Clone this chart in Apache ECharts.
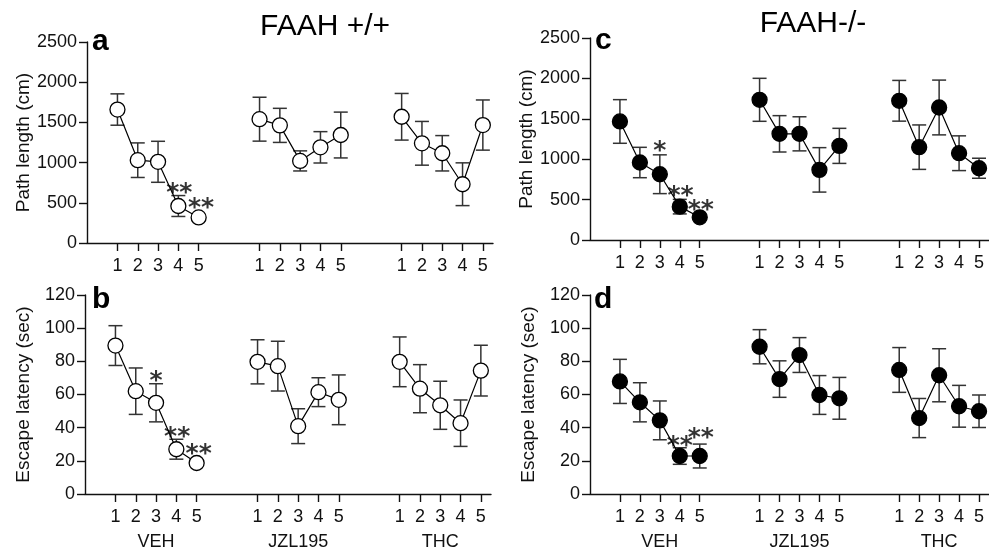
<!DOCTYPE html>
<html>
<head>
<meta charset="utf-8">
<script src="https://cdn.jsdelivr.net/npm/echarts@6/dist/echarts.min.js"></script>
<style>
  html, body { margin: 0; padding: 0; background: #fff; }
  #myEcharts { width: 989px; height: 555px; }
</style>
</head>
<body>
<div id="myEcharts"></div>
<script>
// groups and training days
const groups = ['VEH', 'JZL195', 'THC'];
const days = [1, 2, 3, 4, 5];
const groupStart = [0, 7, 14]; // x position of day 1 in each group

// a: FAAH +/+ path length (cm)
const pathWTMean = [1660, 1030, 1010, 460, 318, 1540, 1463, 1021, 1190, 1343, 1570, 1240, 1116, 731, 1467];
const pathWTSem = [195, 215, 255, 130, 20, 273, 212, 125, 195, 285, 290, 272, 220, 266, 312];
// b: FAAH +/+ escape latency (sec)
const latWTMean = [89.5, 62, 55, 27, 18.7, 79.7, 77.1, 40.9, 61.4, 56.8, 79.7, 63.5, 53.5, 42.7, 74.4];
const latWTSem = [12, 14, 11.5, 6, 1.5, 13.3, 15, 10.5, 8.7, 15, 15, 14.5, 14.5, 14, 15.3];
// c: FAAH -/- path length (cm)
const pathKOMean = [1467, 959, 814, 413, 281, 1735, 1314, 1314, 868, 1165, 1723, 1149, 1640, 1074, 888];
const pathKOSem = [270, 188, 240, 90, 20, 266, 225, 211, 275, 217, 252, 275, 339, 215, 124];
// d: FAAH -/- escape latency (sec)
const latKOMean = [67.9, 55.3, 44.4, 22.9, 22.9, 88.8, 69.3, 83.8, 59.7, 57.7, 74.8, 45.8, 71.6, 52.9, 49.9];
const latKOSem = [13.3, 11.8, 11.7, 5, 7.2, 10.3, 11, 10.5, 11.7, 12.6, 13.5, 11.8, 16, 12.6, 9.8];

// significance marks: [x, y, text]
const starsA = [[3.05, 684, '**'], [4.12, 494, '**']];
const starsB = [[2, 70.8, '*'], [3.04, 37.2, '**'], [4.1, 26.8, '**']];
const starsC = [[2, 1155, '*'], [3.04, 598, '**'], [4.05, 421, '**']];
const starsD = [[3, 31.8, '**'], [4.05, 36.4, '**']];

const FONT = 'Liberation Sans, Arial, sans-serif';
const xTicks = [];
groupStart.forEach(s => days.forEach((d, i) => xTicks.push(s + i)));

const panels = [
  { mean: pathWTMean, sem: pathWTSem, stars: starsA, fill: '#fff', max: 2500, interval: 500, name: 'Path length (cm)',
    grid: { left: 87, top: 42, width: 406, height: 201 }, bottom: false },
  { mean: latWTMean, sem: latWTSem, stars: starsB, fill: '#fff', max: 120, interval: 20, name: 'Escape latency (sec)',
    grid: { left: 85, top: 295, width: 406, height: 203 }, bottom: true },
  { mean: pathKOMean, sem: pathKOSem, stars: starsC, fill: '#000', max: 2500, interval: 500, name: 'Path length (cm)',
    grid: { left: 590, top: 38, width: 406, height: 202 }, bottom: false },
  { mean: latKOMean, sem: latKOSem, stars: starsD, fill: '#000', max: 120, interval: 20, name: 'Escape latency (sec)',
    grid: { left: 590, top: 295, width: 406, height: 201 }, bottom: true }
];

const axisLineStyle = { color: '#111', width: 1.4 };

const grid = [], xAxis = [], yAxis = [], series = [];
panels.forEach((p, k) => {
  grid.push(p.grid);
  xAxis.push({
    type: 'value', gridIndex: k, min: -1.5, max: 18.5,
    splitLine: { show: false },
    axisLine: { onZero: false, lineStyle: axisLineStyle },
    axisTick: { customValues: xTicks, length: 8, lineStyle: axisLineStyle },
    axisLabel: {
      customValues: xTicks, margin: 11, fontSize: 18, fontFamily: FONT, color: '#111', lineHeight: 25,
      formatter: v => {
        const d = (v % 7) + 1;
        if (p.bottom && d === 3) return d + '\n{g|' + groups[Math.floor(v / 7)] + '}';
        return String(d);
      },
      rich: { g: { fontSize: 18, fontFamily: FONT, color: '#111', lineHeight: 25 } }
    }
  });
  yAxis.push({
    type: 'value', gridIndex: k, min: 0, max: p.max, interval: p.interval,
    name: p.name, nameLocation: 'middle', nameRotate: 90, nameGap: 52,
    nameTextStyle: { fontSize: 19, fontFamily: FONT, color: '#111' },
    splitLine: { show: false },
    axisLine: { show: true, onZero: false, lineStyle: axisLineStyle },
    axisTick: { show: true, length: 8, lineStyle: axisLineStyle },
    axisLabel: { margin: 10, fontSize: 18, fontFamily: FONT, color: '#111', formatter: v => String(v) }
  });

  // error bars
  series.push({
    type: 'custom', xAxisIndex: k, yAxisIndex: k, z: 1,
    data: p.mean.map((m, i) => [xTicks[i], m, p.sem[i]]),
    renderItem: (params, api) => {
      const x = api.value(0), m = api.value(1), e = api.value(2);
      const top = api.coord([x, m + e]), bot = api.coord([x, m - e]);
      const hw = 7;
      const style = { stroke: '#333', lineWidth: 1.5 };
      return {
        type: 'group',
        children: [
          { type: 'line', shape: { x1: top[0], y1: top[1], x2: bot[0], y2: bot[1] }, style },
          { type: 'line', shape: { x1: top[0] - hw, y1: top[1], x2: top[0] + hw, y2: top[1] }, style },
          { type: 'line', shape: { x1: bot[0] - hw, y1: bot[1], x2: bot[0] + hw, y2: bot[1] }, style }
        ]
      };
    }
  });

  // one line per group so the groups are not joined
  groupStart.forEach((s, g) => {
    series.push({
      type: 'line', xAxisIndex: k, yAxisIndex: k, z: 2,
      data: days.map((d, i) => [s + i, p.mean[g * 5 + i]]),
      symbol: 'circle', symbolSize: 15,
      itemStyle: { color: p.fill, borderColor: '#000', borderWidth: 1.3 },
      lineStyle: { color: '#000', width: 1.2 }
    });
  });

  // asterisks
  series.push({
    type: 'scatter', xAxisIndex: k, yAxisIndex: k, z: 3,
    data: p.stars, symbolSize: 1, itemStyle: { color: 'rgba(0,0,0,0)' },
    label: {
      show: true, position: 'inside', offset: [0, 5],
      formatter: q => q.data[2],
      fontSize: 25, fontWeight: 'bold', fontFamily: 'DejaVu Sans, sans-serif', color: '#000'
    }
  });
});

const letter = (t, left, top) => ({
  text: t, left, top, padding: 0,
  textStyle: { fontSize: 30, fontWeight: 'bold', fontFamily: FONT, color: '#000', lineHeight: 30 }
});

const chart = echarts.init(document.getElementById('myEcharts'), null, { renderer: 'canvas' });
chart.setOption({
  animation: false,
  backgroundColor: '#fff',
  title: [
    { text: 'FAAH +/+', left: 325, top: 12, textAlign: 'center', padding: 0,
      textStyle: { fontSize: 30, fontWeight: 'normal', fontFamily: FONT, color: '#000' } },
    { text: 'FAAH-/-', left: 813, top: 9, textAlign: 'center', padding: 0,
      textStyle: { fontSize: 30, fontWeight: 'normal', fontFamily: FONT, color: '#000' } },
    letter('a', 92, 27),
    letter('b', 92, 285),
    letter('c', 595, 26),
    letter('d', 594, 285)
  ],
  grid, xAxis, yAxis, series
});
</script>
</body>
</html>
